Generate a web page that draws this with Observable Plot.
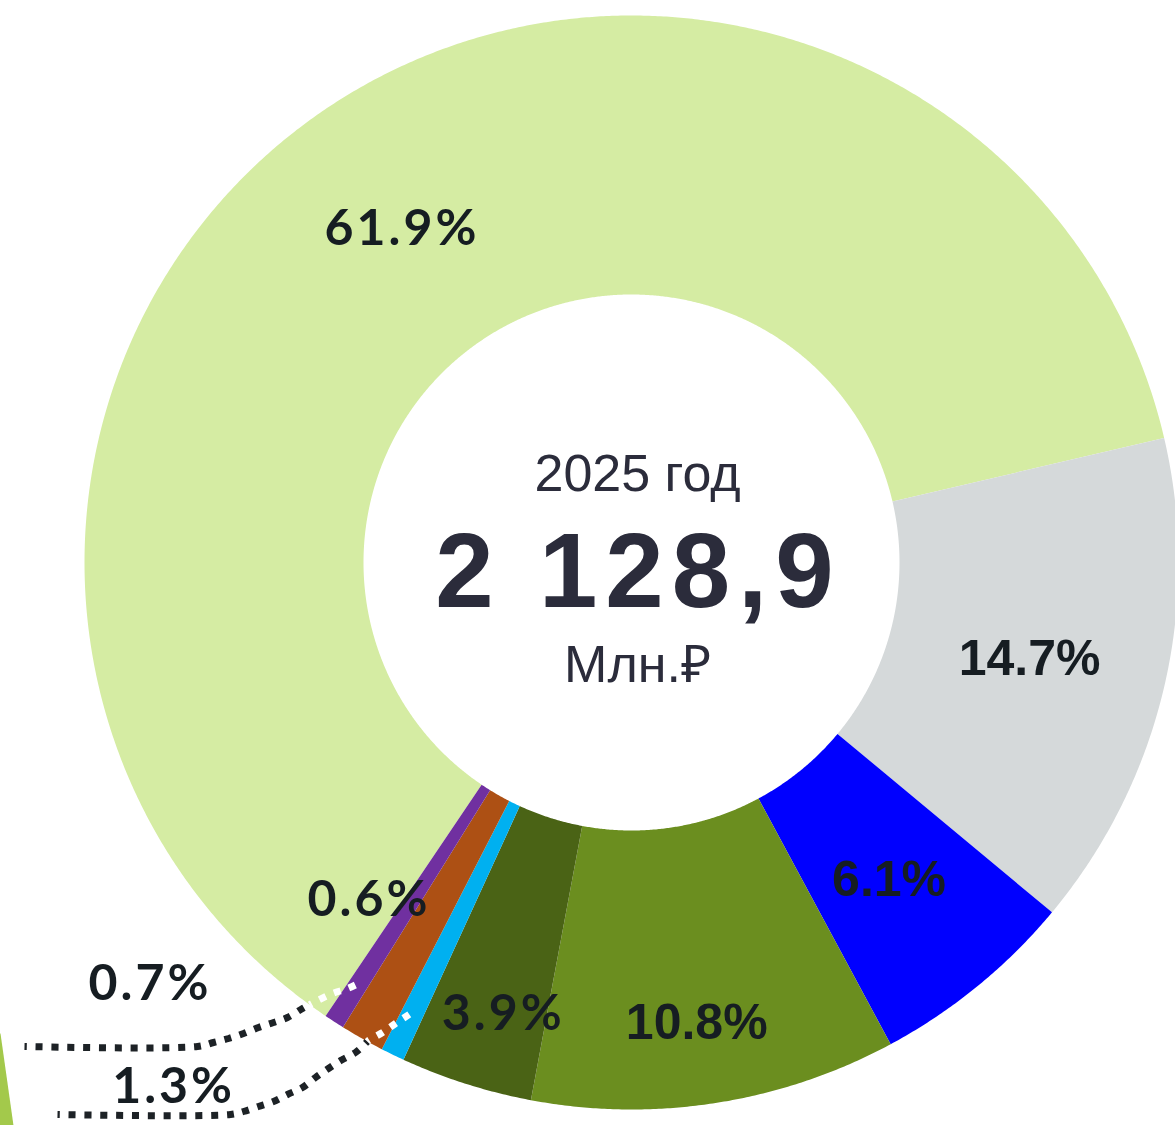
<!DOCTYPE html>
<html><head><meta charset="utf-8">
<script src="https://cdn.jsdelivr.net/npm/d3@7"></script>
<script src="https://cdn.jsdelivr.net/npm/@observablehq/plot@0.6"></script>
<style>
html,body{margin:0;padding:0;background:#fff;overflow:hidden}
#chart svg{display:block}
</style></head><body><div id="chart"></div>
<script>
// ---- data ----
const shares = [61.9, 14.7, 6.1, 10.8, 3.9, 0.7, 1.3, 0.6];
const shareLabels = ["61.9%", "14.7%", "6.1%", "10.8%", "3.9%", "0.7%", "1.3%", "0.6%"];
const sliceColors = ["#d5eca3", "#d5d9da", "#0000ff", "#6b8e1f", "#4a6315", "#00b0f0", "#ad5014", "#7030a0"];
const centerYear = ["2025 год"];
const centerTotal = ["2 128,9"];
const centerUnit = ["Млн.₽"];
const startAngle = 214;           // degrees, clockwise from 12 o'clock
const outerR = 547, innerR = 268; // chart units
// label placement: [angle (null = slice middle), radius]
const labelPolar = [[null, 407], [null, 409], [null, 407], [171.9, 463], [196.1, 468], [229, 640], [221.3, 696], [218.2, 427]];
const labelFontArial = [false, true, true, true, false, false, false, false];
// leader lines for the small slices (chart units, centre = 0,0)
const leaderUpper = [[-607,-484],[-434,-484],[-418,-480],[-403,-476],[-388,-471],[-373,-465],[-358,-460],[-344,-455],[-329,-446],[-314,-438],[-299,-431],[-284,-426],[-269,-419]];
const leaderLower = [[-574,-552],[-401,-552],[-388,-549],[-373,-544],[-358,-539],[-344,-532],[-329,-525],[-316,-515],[-303,-506],[-289,-497],[-276,-490],[-263,-478],[-249,-470],[-236,-461],[-221,-451]];
// fragment of a neighbouring element cut by the frame (bottom-left)
const edgeFragment = [[-640,-471],[-631,-471],[-618,-563],[-640,-563]];

// ---- build geometry ----
const rad = d => d * Math.PI / 180;
let acc = startAngle;
const slices = shares.map((s, i) => {
  const a0 = acc, a1 = acc + s * 3.6; acc = a1;
  return {i, a0, a1, mid: (a0 + a1) / 2};
});
const arcPts = [];
for (const sl of slices) {
  const n = Math.max(2, Math.ceil((sl.a1 - sl.a0) / 0.3));
  for (let j = 0; j <= n; j++) {
    const a = rad(sl.a0 + (sl.a1 - sl.a0) * j / n);
    arcPts.push({k: sl.i, x: outerR * Math.sin(a), y: outerR * Math.cos(a), c: sliceColors[sl.i]});
  }
  for (let j = n; j >= 0; j--) {
    const a = rad(sl.a0 + (sl.a1 - sl.a0) * j / n);
    arcPts.push({k: sl.i, x: innerR * Math.sin(a), y: innerR * Math.cos(a), c: sliceColors[sl.i]});
  }
}
const labels = slices.map(sl => {
  const [ang, r] = labelPolar[sl.i];
  const a = rad(ang == null ? sl.mid : ang);
  return {x: r * Math.sin(a), y: r * Math.cos(a), text: shareLabels[sl.i], arial: labelFontArial[sl.i]};
});

function splitLeader(pts, name) {
  const out = [];
  let prevIn = null;
  pts.forEach(([x, y], k) => {
    const inside = Math.hypot(x, y) <= outerR;
    if (k > 0 && inside !== prevIn) {
      const [px, py] = pts[k - 1];
      let lo = 0, hi = 1;
      for (let it = 0; it < 40; it++) {
        const m = (lo + hi) / 2;
        const d = Math.hypot(px + (x - px) * m, py + (y - py) * m);
        if ((d <= outerR) === prevIn) lo = m; else hi = m;
      }
      const bx = px + (x - px) * lo, by = py + (y - py) * lo;
      out.push({x: bx, y: by, z: name + (prevIn ? "w" : "b"), inside: prevIn});
      out.push({x: bx, y: by, z: name + (inside ? "w" : "b"), inside});
    }
    out.push({x, y, z: name + (inside ? "w" : "b"), inside});
    prevIn = inside;
  });
  return out;
}
const leaderPts = [...splitLeader(leaderUpper, "u"), ...splitLeader(leaderLower, "l")];
const edgePts = edgeFragment.map(([x, y]) => ({x, y}));

const textDark = "#161d22", centerInk = "#2b2c3b";
const dotted = {x: "x", y: "y", z: "z", strokeWidth: 7, strokeDasharray: "7,8.8", strokeDashoffset: 4.5, strokeLinecap: "butt", strokeLinejoin: "miter", curve: "catmull-rom"};

const chart = Plot.plot({
  width: 1175, height: 1125, margin: 0,
  x: {domain: [-631, 544], axis: null},
  y: {domain: [-563, 562], axis: null},
  color: {type: "identity"},
  style: {background: "white", overflow: "visible"},
  marks: [
    Plot.line(edgePts, {x: "x", y: "y", fill: "#a3c94b", stroke: "none", curve: "linear-closed"}),
    Plot.line(arcPts, {x: "x", y: "y", z: "k", fill: "c", stroke: "none", curve: "linear-closed"}),
    Plot.line(leaderPts.filter(d => !d.inside), {...dotted, stroke: "#1d2226"}),
    Plot.line(leaderPts.filter(d => d.inside), {...dotted, stroke: "#ffffff"}),
    Plot.text(labels.filter(d => !d.arial), {x: "x", y: "y", text: "text", dy: 2, dx: 1.5, fontFamily: "Lato", fontWeight: "bold", fontSize: 50, fill: textDark}),
    Plot.text(labels.filter(d => d.arial), {x: "x", y: "y", text: "text", dy: 2, fontFamily: "Liberation Sans", fontWeight: "bold", fontSize: 50, fill: textDark}),
    Plot.text(centerYear, {x: () => 0, y: () => 88, text: d => d, dx: 6, fontFamily: "Liberation Sans", fontSize: 52, fill: centerInk}),
    Plot.text(centerTotal, {x: () => 0, y: () => -11, text: d => d, dx: 7, fontFamily: "Liberation Sans", fontWeight: "bold", fontSize: 105, fill: centerInk}),
    Plot.text(centerUnit, {x: () => 0, y: () => -103, text: d => d, dx: 6, fontFamily: "Liberation Sans", fontSize: 52, fill: centerInk})
  ]
});
const svgSel = d3.select(chart);
svgSel.selectAll("text").filter(function () { return this.textContent === centerTotal[0]; }).style("letter-spacing", "8px");
const latoSet = new Set(labels.filter(d => !d.arial).map(d => d.text));
svgSel.selectAll("text").filter(function () { return latoSet.has(this.textContent); }).style("letter-spacing", "3px");
document.getElementById("chart").append(chart);
</script>
</body></html>
